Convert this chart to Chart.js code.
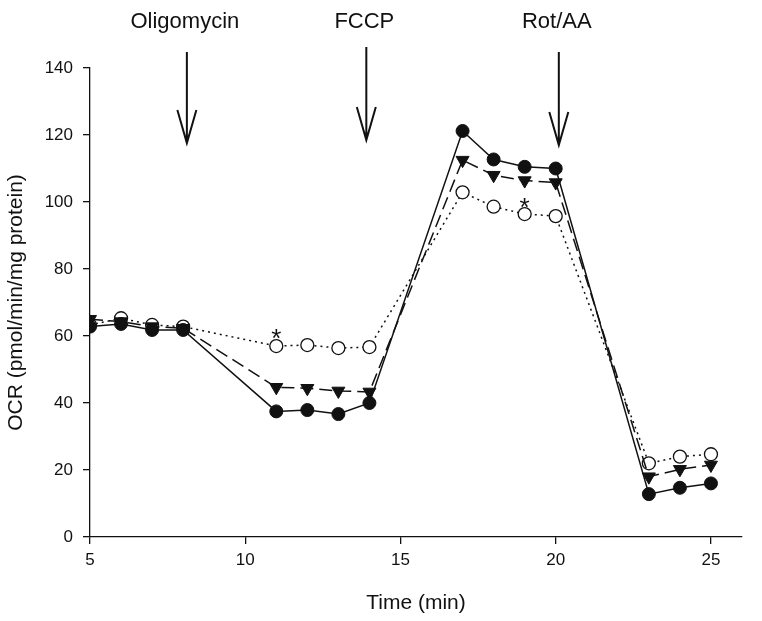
<!DOCTYPE html>
<html>
<head>
<meta charset="utf-8">
<title>OCR</title>
<script src="https://cdn.jsdelivr.net/npm/chart.js@4.4.1/dist/chart.umd.min.js"></script>
<style>
    body { margin: 0; background: #fff; }
    canvas { display: block; }
</style>
</head>
<body>
<canvas id="graficoOCR" width="762" height="621"></canvas>
<script>
// Datos (tiempo en min, OCR en pmol/min/mg proteína)
const tiempos = [5, 6, 7, 8, 11, 12, 13, 14, 17, 18, 19, 20, 23, 24, 25];
const ocrCirculoLleno = [62.8, 63.6, 61.8, 61.8, 37.5, 37.9, 36.7, 40.0, 121.2, 112.7, 110.5, 110.0, 12.8, 14.7, 16.0];
const ocrTriangulo = [65.0, 64.3, 62.8, 62.3, 44.7, 44.4, 43.6, 43.3, 112.5, 108.0, 106.4, 105.8, 18.0, 20.2, 21.5];
const ocrCirculoAbierto = [63.3, 65.3, 63.3, 62.8, 57.0, 57.3, 56.4, 56.7, 102.9, 98.6, 96.4, 95.8, 22.0, 24.0, 24.7];

// Ticks de los ejes
const ticksX = [5, 10, 15, 20, 25];
const ticksY = [0, 20, 40, 60, 80, 100, 120, 140];

// Inyecciones (flechas) y asteriscos
const inyecciones = ['Oligomycin', 'FCCP', 'Rot/AA'];
const inyeccionX = [8.12, 13.9, 20.1];
const flechaInicio = [144.8, 146.3, 144.8];
const flechaFin = [117.6, 118.5, 117.0];
const etiquetaY = 153.7;
const asteriscoX = [11, 19];
const asteriscoY = [61.3, 100.4];

const fuente = "'Liberation Sans', Arial, sans-serif";
const negro = '#111';

let chart; // Variable global para el gráfico

function puntos(valores) {
    return tiempos.map((t, i) => ({ x: t, y: valores[i] }));
}

// Plugin para dibujar flechas, etiquetas y asteriscos
const anotaciones = {
    id: 'anotaciones',
    afterDraw(grafico) {
        const ctx = grafico.ctx;
        const ejeX = grafico.scales.x;
        const ejeY = grafico.scales.y;
        ctx.save();
        ctx.strokeStyle = negro;
        ctx.fillStyle = negro;
        ctx.lineWidth = 2;

        inyecciones.forEach((nombre, i) => {
            const x = ejeX.getPixelForValue(inyeccionX[i]);
            const y1 = ejeY.getPixelForValue(flechaInicio[i]);
            const y2 = ejeY.getPixelForValue(flechaFin[i]);

            ctx.beginPath();
            ctx.moveTo(x, y1);
            ctx.lineTo(x, y2);
            ctx.moveTo(x - 9.5, y2 - 33);
            ctx.lineTo(x, y2);
            ctx.lineTo(x + 9.5, y2 - 33);
            ctx.stroke();

            ctx.font = '22px ' + fuente;
            ctx.textAlign = 'center';
            ctx.textBaseline = 'middle';
            ctx.fillText(nombre, x - 2, ejeY.getPixelForValue(etiquetaY));
        });

        // Asteriscos de significancia
        ctx.font = '26px ' + fuente;
        ctx.textAlign = 'center';
        ctx.textBaseline = 'alphabetic';
        asteriscoX.forEach((ax, i) => {
            const x = ejeX.getPixelForValue(ax);
            const y = ejeY.getPixelForValue(asteriscoY[i]);
            ctx.fillText('*', x, y + 0.58 * 26);
        });
        ctx.restore();
    }
};

// Inicializar el gráfico
function inicializarGrafico() {
    const ctx = document.getElementById('graficoOCR').getContext('2d');

    chart = new Chart(ctx, {
        type: 'line',
        data: {
            datasets: [{
                data: puntos(ocrCirculoLleno),
                borderColor: negro,
                borderWidth: 1.5,
                pointStyle: 'circle',
                pointRadius: 6.5,
                pointBackgroundColor: negro,
                pointBorderColor: negro,
                pointBorderWidth: 1
            }, {
                data: puntos(ocrTriangulo),
                borderColor: negro,
                borderWidth: 1.5,
                borderDash: [13, 6],
                pointStyle: 'triangle',
                pointRotation: 180,
                pointRadius: 7.5,
                pointBackgroundColor: negro,
                pointBorderColor: negro,
                pointBorderWidth: 1
            }, {
                data: puntos(ocrCirculoAbierto),
                borderColor: negro,
                borderWidth: 1.5,
                borderDash: [2, 4],
                pointStyle: 'circle',
                pointRadius: 6.5,
                pointBackgroundColor: '#fff',
                pointBorderColor: negro,
                pointBorderWidth: 1.3
            }]
        },
        options: {
            responsive: false,
            animation: false,
            layout: { padding: { top: 68, right: 20, left: 0, bottom: 0 } },
            plugins: {
                legend: { display: false },
                tooltip: { enabled: false }
            },
            scales: {
                x: {
                    type: 'linear',
                    min: 5,
                    max: 26,
                    afterBuildTicks: (escala) => { escala.ticks = ticksX.map(v => ({ value: v })); },
                    afterFit: (escala) => { escala.height = 84; },
                    ticks: { font: { family: fuente, size: 17 }, color: negro, padding: 6 },
                    grid: { drawOnChartArea: false, drawTicks: true, tickLength: 7, color: negro, lineWidth: 1.3 },
                    border: { color: negro, width: 1.3 },
                    title: {
                        display: true,
                        text: 'Time (min)',
                        font: { family: fuente, size: 21 },
                        color: negro,
                        padding: { top: 0, bottom: 5 }
                    }
                },
                y: {
                    type: 'linear',
                    min: 0,
                    max: 140,
                    afterBuildTicks: (escala) => { escala.ticks = ticksY.map(v => ({ value: v })); },
                    afterFit: (escala) => { escala.width = 90; },
                    ticks: { font: { family: fuente, size: 17 }, color: negro, padding: 10 },
                    grid: { drawOnChartArea: false, drawTicks: true, tickLength: 7, color: negro, lineWidth: 1.3 },
                    border: { color: negro, width: 1.3 },
                    title: {
                        display: true,
                        text: 'OCR (pmol/min/mg protein)',
                        font: { family: fuente, size: 21 },
                        color: negro,
                        padding: { top: 4, bottom: 0 }
                    }
                }
            }
        },
        plugins: [anotaciones]
    });
}

inicializarGrafico();
</script>
</body>
</html>
